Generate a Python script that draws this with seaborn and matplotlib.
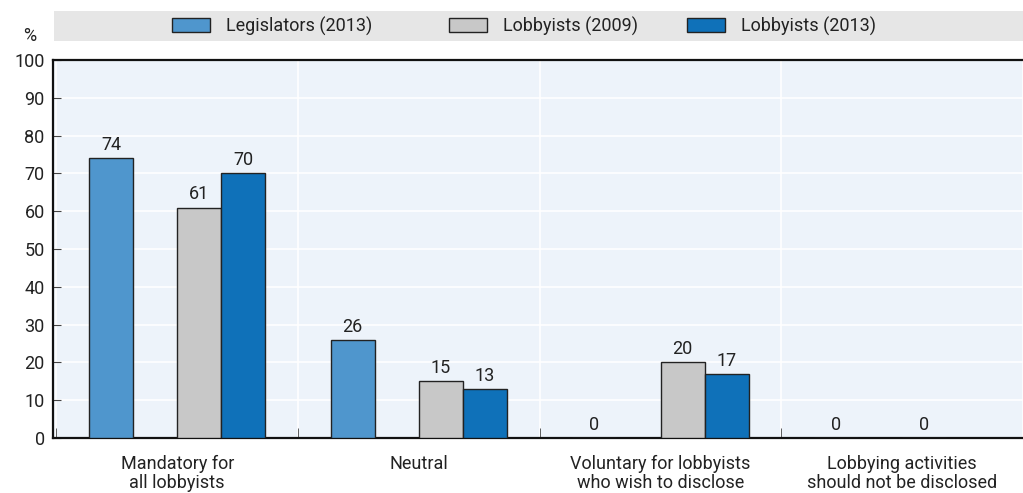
import numpy as np
import pandas as pd
import matplotlib
matplotlib.use("Agg")
import matplotlib.pyplot as plt
import seaborn as sns
from matplotlib.patches import Rectangle, Patch

categories = ["Mandatory for\nall lobbyists", "Neutral",
              "Voluntary for lobbyists\nwho wish to disclose",
              "Lobbying activities\nshould not be disclosed"]
series = ["Legislators (2013)", "Lobbyists (2009)", "Lobbyists (2013)"]
legislators_2013 = [74, 26, 0, 0]
lobbyists_2009 = [61, 15, 20, 0]
lobbyists_2013 = [70, 13, 17, np.nan]
yticks = list(range(0, 101, 10))

colors = {"Legislators (2013)": "#4f96cd", " ": "#ffffff",
          "Lobbyists (2009)": "#c8c8c8", "Lobbyists (2013)": "#0f71b9"}
hue_order = ["Legislators (2013)", " ", "Lobbyists (2009)", "Lobbyists (2013)"]

rows = []
for i, c in enumerate(categories):
    rows.append((c, series[0], legislators_2013[i]))
    rows.append((c, " ", np.nan))
    rows.append((c, series[1], lobbyists_2009[i]))
    rows.append((c, series[2], lobbyists_2013[i]))
df = pd.DataFrame(rows, columns=["category", "series", "value"])

sns.set_style("white")
plt.rcParams["font.family"] = ["Roboto", "DejaVu Sans"]
plt.rcParams["font.size"] = 13
FS = 13

fig = plt.figure(figsize=(10.23, 4.93), dpi=100)
ax = fig.add_axes([0.0518, 0.1116, 0.9482, 0.7664])
ax.set_facecolor("#edf3fa")

sns.barplot(data=df, x="category", y="value", hue="series", hue_order=hue_order,
            palette=colors, saturation=1, width=0.73, edgecolor="#222222", linewidth=1,
            errorbar=None, legend=False, ax=ax, zorder=3)

for cont in ax.containers:
    for bar in cont:
        h = bar.get_height()
        if np.isnan(h):
            continue
        ax.annotate(f"{h:.0f}", (bar.get_x() + bar.get_width() / 2, h),
                    xytext=(0, 3), textcoords="offset points",
                    ha="center", va="bottom", fontsize=FS, color="#222222")

ax.set_ylim(0, 100)
ax.set_yticks(yticks)
ax.set_xlim(-0.514, 3.459)
ax.set_xticks(np.arange(-0.5, 4.0, 1.0), minor=True)
ax.grid(True, which="major", axis="y", color="white", linewidth=1.2, zorder=0)
ax.grid(True, which="minor", axis="x", color="white", linewidth=1.2, zorder=0)
ax.set_axisbelow(True)
ax.tick_params(axis="y", direction="in", length=6, color="#444444", labelsize=FS,
               labelcolor="#222222", pad=6, left=True)
ax.tick_params(axis="x", which="major", length=0, labelsize=FS, labelcolor="#222222", pad=12)
ax.tick_params(axis="x", which="minor", direction="in", length=7, color="#444444", bottom=True)
for lbl in ax.get_xticklabels():
    lbl.set_linespacing(1.1)
ax.set_xlabel("")
ax.set_ylabel("")
ax.spines["right"].set_visible(False)
for s in ["left", "bottom", "top"]:
    ax.spines[s].set_visible(True)
    ax.spines[s].set_color("#111111")
    ax.spines[s].set_linewidth(1.6)

# legend band
fig.patches.append(Rectangle((54 / 1023, 1 - 41 / 493), 1 - 54 / 1023, 30 / 493,
                             transform=fig.transFigure, facecolor="#e6e6e6",
                             edgecolor="none", zorder=0))
legend_x = [172, 449, 687]
for s, lx in zip(series, legend_x):
    h = Patch(facecolor=colors[s], edgecolor="#222222", linewidth=1)
    fig.legend([h], [s], loc="center left", bbox_to_anchor=(lx / 1023, 1 - 26 / 493),
               frameon=False, fontsize=FS, handlelength=2.1, handleheight=0.85,
               handletextpad=0.9, borderpad=0, borderaxespad=0, labelcolor="#222222")
fig.text(30 / 1023, 1 - 36 / 493, "%", ha="center", va="center", fontsize=FS, color="#222222")

fig.savefig("out.png", dpi=100)
